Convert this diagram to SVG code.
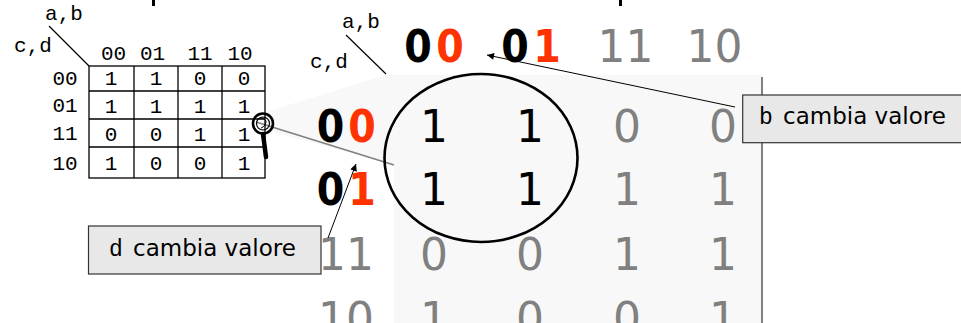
<svg xmlns="http://www.w3.org/2000/svg" width="961" height="323" viewBox="0 0 961 323">
<defs>
<style>
.mono{font-family:"Liberation Mono","Courier New",monospace;font-size:21px;fill:#000;text-anchor:middle}
.big{font-family:"DejaVu Sans",Verdana,sans-serif;font-size:44px;text-anchor:middle}
.bb{font-family:"DejaVu Sans Condensed","DejaVu Sans",Verdana,sans-serif;font-weight:bold}
.k{fill:#000}
.r{fill:#ff3300}
.g{fill:#808080}
.cell{stroke:#000;stroke-width:1.3;fill:none}
.call{fill:#e8e8e8;stroke:#333;stroke-width:1.2}
.ct{font-family:"DejaVu Sans",Verdana,sans-serif;font-size:23px;fill:#000}
.cm{font-family:"Liberation Mono","Courier New",monospace;font-size:23px;fill:#000}
.conn{stroke:#000;stroke-width:1;fill:none}
</style>
<marker id="ah" viewBox="0 0 10 10" refX="10" refY="5" markerWidth="9" markerHeight="7" orient="auto" markerUnits="userSpaceOnUse">
<path d="M0,0 L10,5 L0,10 z" fill="#000"/>
</marker>
</defs>
<rect width="961" height="323" fill="#fff"/>
<rect x="152" y="0" width="3" height="6" fill="#000"/>
<rect x="619" y="0" width="3" height="6" fill="#000"/>

<g id="zoom-area">
<polygon points="263,113 385,75 762,75 762,323 394,323 394,165 262,129" fill="#f8f8f8"/>
<line x1="256" y1="122" x2="394" y2="165" stroke="#808080" stroke-width="1.6"/>
<line x1="762" y1="77" x2="762" y2="323" stroke="#808080" stroke-width="2"/>
</g>

<g id="small-kmap">
<line x1="49" y1="26" x2="89" y2="66" stroke="#000" stroke-width="1.2"/>
<text class="mono" x="64" y="20">a,b</text>
<text class="mono" x="33" y="52">c,d</text>
<text class="mono" x="113.5" y="59.5">00</text>
<text class="mono" x="152.5" y="59.5">01</text>
<text class="mono" x="200" y="59.5">11</text>
<text class="mono" x="240" y="59.5">10</text>
<text class="mono" x="65" y="85">00</text>
<text class="mono" x="65" y="112">01</text>
<text class="mono" x="65" y="140">11</text>
<text class="mono" x="65" y="170">10</text>
<rect class="cell" x="89" y="66" width="176" height="112"/>
<line class="cell" x1="134" y1="66" x2="134" y2="178"/>
<line class="cell" x1="178" y1="66" x2="178" y2="178"/>
<line class="cell" x1="222" y1="66" x2="222" y2="178"/>
<line class="cell" x1="89" y1="91" x2="265" y2="91"/>
<line class="cell" x1="89" y1="119" x2="265" y2="119"/>
<line class="cell" x1="89" y1="147" x2="265" y2="147"/>
<text class="mono" x="111" y="85">1</text><text class="mono" x="156" y="85">1</text><text class="mono" x="200" y="85">0</text><text class="mono" x="244" y="85">0</text>
<text class="mono" x="111" y="113">1</text><text class="mono" x="156" y="113">1</text><text class="mono" x="200" y="113">1</text><text class="mono" x="244" y="113">1</text>
<text class="mono" x="111" y="141">0</text><text class="mono" x="156" y="141">0</text><text class="mono" x="200" y="141">1</text><text class="mono" x="244" y="141">1</text>
<text class="mono" x="111" y="170">1</text><text class="mono" x="156" y="170">0</text><text class="mono" x="200" y="170">0</text><text class="mono" x="244" y="170">1</text>
</g>

<g id="magnifier">
<line x1="263" y1="134" x2="266" y2="157" stroke="#000" stroke-width="4.5" stroke-linecap="round"/>
<circle cx="263" cy="123.5" r="10" fill="none" stroke="#000" stroke-width="2.6"/>
<circle cx="263" cy="123.5" r="6.5" fill="none" stroke="#000" stroke-width="1.2"/>
<path d="M258,119 Q263,116 266,121 Q266,126 261,128" fill="none" stroke="#000" stroke-width="1"/>
</g>

<g id="big-kmap">
<line x1="346" y1="35" x2="386" y2="74" stroke="#000" stroke-width="1.2"/>
<text class="mono" x="361" y="28">a,b</text>
<text class="mono" x="329" y="68">c,d</text>
<text class="big bb k" x="418" y="62">0</text><text class="big bb r" x="450" y="62">0</text>
<text class="big bb k" x="515" y="62">0</text><text class="big bb r" x="547" y="62">1</text>
<text class="big g" x="625.5" y="62">11</text>
<text class="big g" x="714.5" y="62">10</text>
<text class="big bb k" x="330.5" y="142">0</text><text class="big bb r" x="362" y="142">0</text>
<text class="big bb k" x="330.5" y="205">0</text><text class="big bb r" x="362" y="205">1</text>
<text class="big g" x="346" y="270">11</text>
<text class="big g" x="346" y="334">10</text>
<text class="big k" x="434" y="142">1</text><text class="big k" x="530" y="142">1</text><text class="big g" x="627" y="142">0</text><text class="big g" x="723" y="142">0</text>
<text class="big k" x="434" y="205">1</text><text class="big k" x="530" y="205">1</text><text class="big g" x="627" y="205">1</text><text class="big g" x="723" y="205">1</text>
<text class="big g" x="434" y="270">0</text><text class="big g" x="530" y="270">0</text><text class="big g" x="627" y="270">1</text><text class="big g" x="723" y="270">1</text>
<text class="big g" x="434" y="334">1</text><text class="big g" x="530" y="334">0</text><text class="big g" x="627" y="334">0</text><text class="big g" x="723" y="334">1</text>
</g>

<g id="group-circle">
<ellipse cx="481" cy="158" rx="96.5" ry="84" fill="none" stroke="#000" stroke-width="2.6"/>
</g>

<g id="connectors">
<line class="conn" x1="735" y1="107" x2="487" y2="55" marker-end="url(#ah)"/>
<line class="conn" x1="328" y1="238" x2="356" y2="164" marker-end="url(#ah)"/>
</g>

<g id="callout-b">
<rect class="call" x="742.7" y="95" width="240" height="47.7"/>
<text class="cm" x="759" y="124">b</text>
<text class="ct" x="783" y="124">cambia valore</text>
</g>

<g id="callout-d">
<rect class="call" x="88.5" y="226" width="232.5" height="48"/>
<text class="cm" x="109" y="256">d</text>
<text class="ct" x="133" y="256">cambia valore</text>
</g>
</svg>
